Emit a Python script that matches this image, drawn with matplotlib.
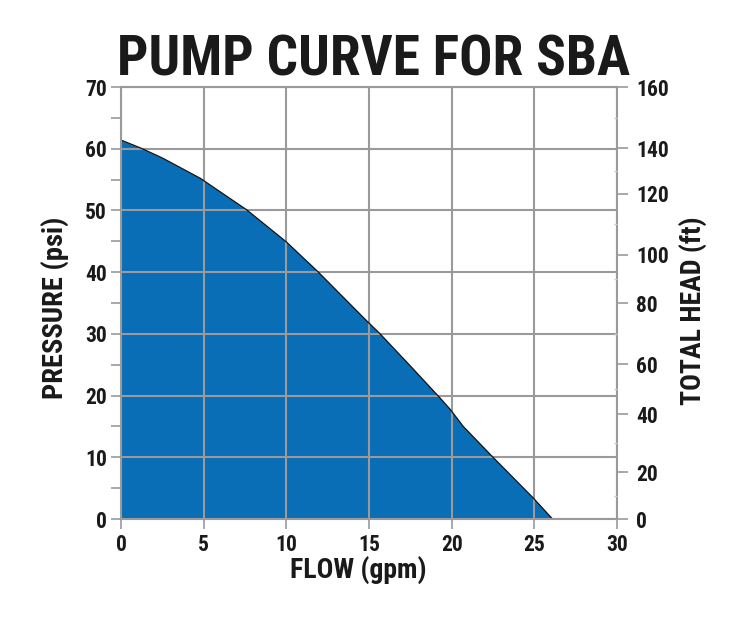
import matplotlib
matplotlib.use("Agg")
import matplotlib.pyplot as plt
from matplotlib.ticker import MultipleLocator, FixedLocator

# Data
flow_gpm = [0, 1.2, 2.5, 4.8, 7.6, 10.0, 11.9, 14.9, 15.6, 17.5, 19.3, 19.9, 20.7, 22.5, 24.9, 26.1]
pressure_psi = [61.4, 60.1, 58.5, 55.2, 50.1, 44.9, 40.1, 32.0, 30.2, 24.8, 19.6, 17.8, 15.0, 10.0, 3.5, 0.0]

x_ticks = [0, 5, 10, 15, 20, 25, 30]
psi_ticks = [0, 10, 20, 30, 40, 50, 60, 70]
head_labels = ["0", "20", "40", "60", "80", "100", "120", "140", "160"]
# where the head labels sit on the pressure scale (as drawn in the reference)
head_tick_psi = [0, 7.6, 17.0, 25.1, 35.0, 42.8, 52.7, 60.1, 70]

title = "PUMP CURVE FOR SBA"
xlabel = "FLOW (gpm)"
ylabel = "PRESSURE (psi)"
ylabel2 = "TOTAL HEAD (ft)"

FONT = ["Roboto Condensed", "DejaVu Sans"]
TXT = "#1a1a1a"
GRID = "#9a9a9a"
FILL = "#0a6eb6"

plt.rcParams["font.family"] = FONT
plt.rcParams["font.weight"] = "bold"

fig = plt.figure(figsize=(7.5, 6.31), dpi=100)
ax = fig.add_axes([121/750, 1-519/631, (617-121)/750, (519-87)/631])

ax.fill_between(flow_gpm, pressure_psi, 0, color=FILL, lw=0, zorder=1)
ax.plot(flow_gpm, pressure_psi, color="#111111", lw=0.9, zorder=3)

ax.set_xlim(0, 30)
ax.set_ylim(0, 70)
ax.set_xticks(x_ticks)
ax.set_yticks(psi_ticks)
ax.yaxis.set_minor_locator(MultipleLocator(5))
ax.grid(True, which="major", color=GRID, lw=1.5, zorder=2)
ax.set_axisbelow(False)
for s in ax.spines.values():
    s.set_color(GRID)
    s.set_linewidth(1.5)
    s.set_zorder(4)

ax.tick_params(axis="both", which="both", color=GRID, width=1.2, length=7,
               labelsize=15.5, labelcolor=TXT, pad=3)
ax.tick_params(axis="x", pad=4)
for lab in ax.get_xticklabels() + ax.get_yticklabels():
    lab.set_fontweight("bold")

ax2 = ax.twinx()
ax2.set_ylim(0, 70)
ax2.set_yticks(head_tick_psi)
ax2.set_yticklabels(head_labels)
mids = [(a + b) / 2 for a, b in zip(head_tick_psi[:-1], head_tick_psi[1:])]
ax2.yaxis.set_minor_locator(FixedLocator(mids))
ax2.tick_params(axis="y", which="major", color=GRID, width=1.2, length=8,
                labelsize=15.5, labelcolor=TXT, pad=6)
ax2.tick_params(axis="y", which="minor", color="#cccccc", width=1, length=2, direction="in")
for s in ax2.spines.values():
    s.set_visible(False)
for lab in ax2.get_yticklabels():
    lab.set_fontweight("bold")

fig.text(374/750, 1-75/631, title, ha="center", va="baseline",
         fontsize=40, fontweight="heavy", color=TXT)
fig.text(358/750, 1-578/631, xlabel, ha="center", va="baseline",
         fontsize=20, fontweight="bold", color=TXT)
fig.text(55/750, 1-308/631, ylabel, ha="center", va="center", rotation=90,
         fontsize=20.5, fontweight="bold", color=TXT)
fig.text(693/750, 1-311/631, ylabel2, ha="center", va="center", rotation=90,
         fontsize=20, fontweight="bold", color=TXT)

fig.savefig("out.png", dpi=100)
